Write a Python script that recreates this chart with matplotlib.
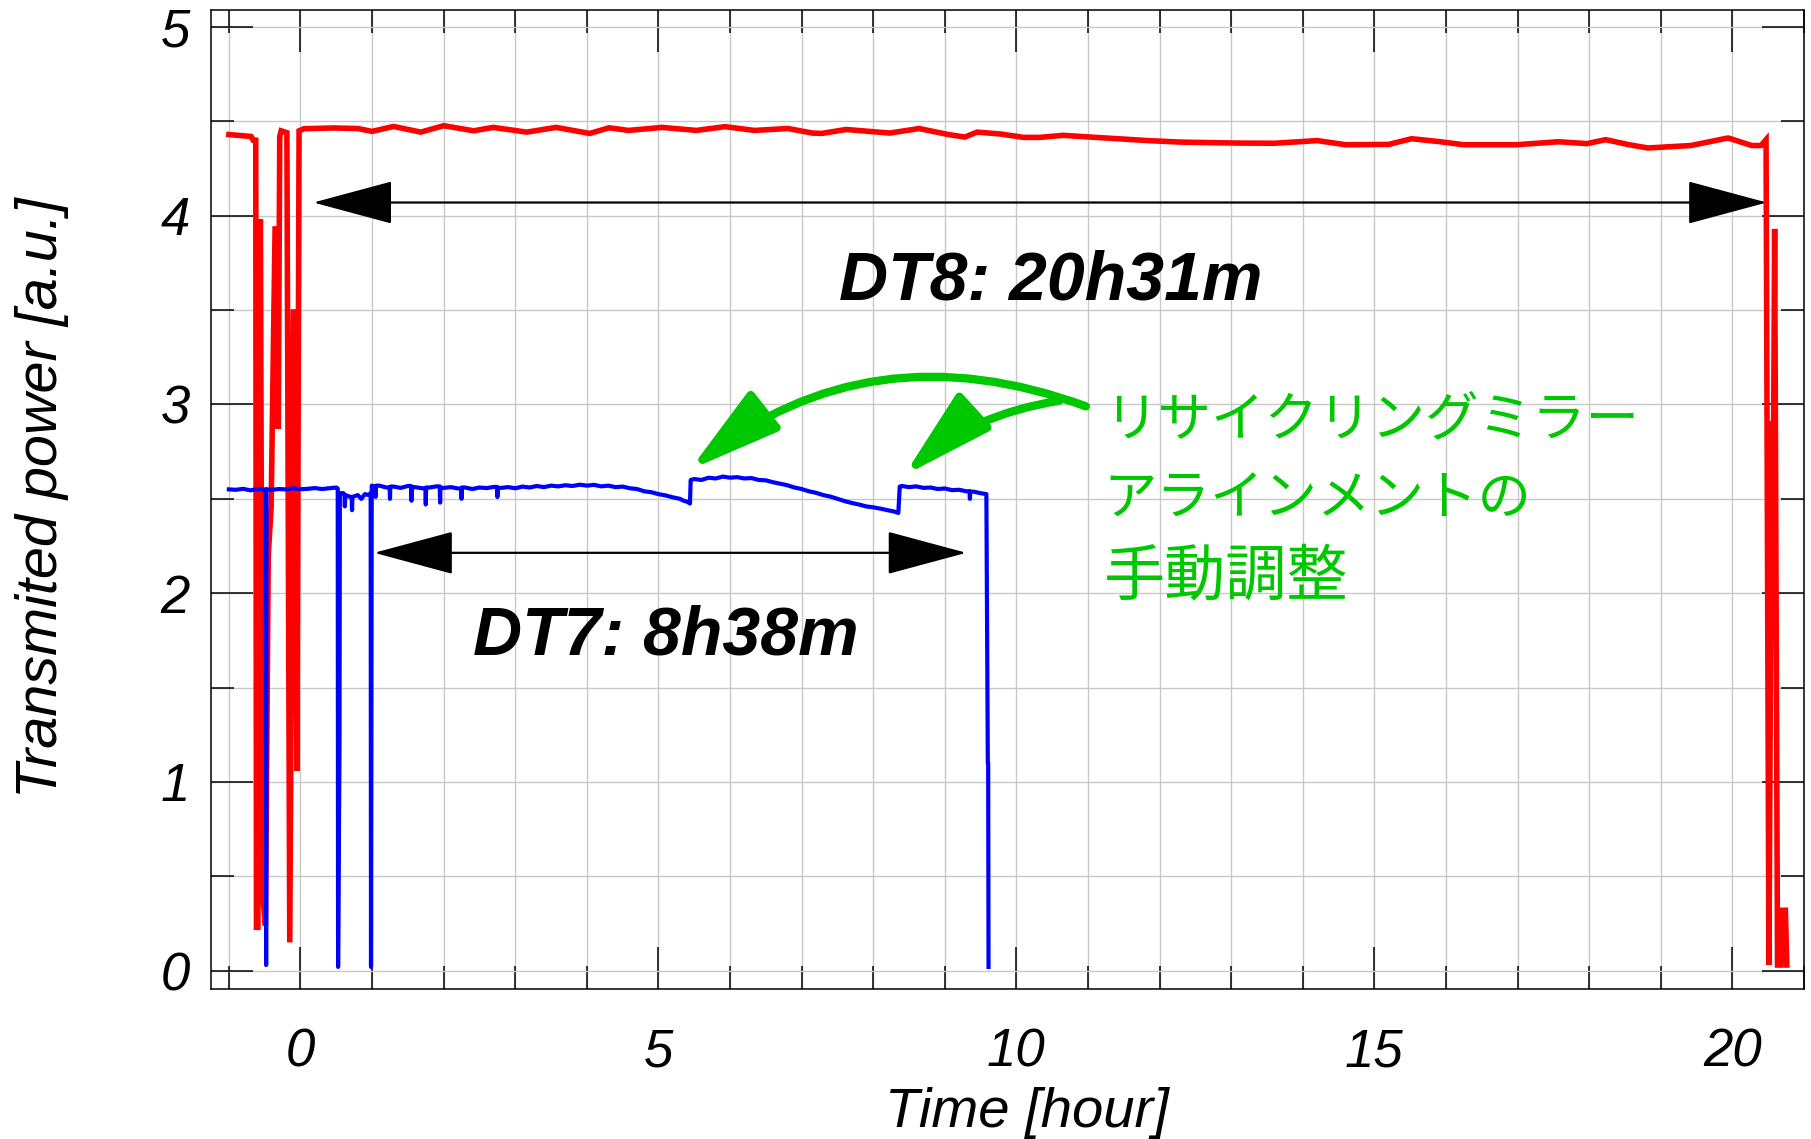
import matplotlib
matplotlib.use("Agg")
import matplotlib.pyplot as plt
from matplotlib.patches import FancyArrowPatch
from matplotlib.ticker import MultipleLocator

# ---------------- data ----------------
red_t = [-1.00, -0.69, -0.66, -0.625, -0.615, -0.595, -0.585, -0.56, -0.53, -0.49, -0.45, -0.41,
         -0.355, -0.33, -0.31, -0.29, -0.27, -0.19, -0.15, -0.10, -0.08, -0.05, -0.02,
         0.05, 0.46, 0.8, 1.0, 1.3, 1.68, 2.0, 2.42, 2.69, 3.16, 3.57, 4.04, 4.31, 4.58, 5.05,
         5.53, 5.93, 6.34, 6.81, 7.15, 7.28, 7.62, 8.23, 8.64, 9.05, 9.28, 9.45, 9.78, 10.1,
         10.32, 10.65, 10.9, 11.24, 11.84, 12.3, 13.09, 13.6, 14.2, 14.6, 15.2, 15.52, 15.92,
         16.25, 16.98, 17.57, 17.97, 18.23, 18.56, 18.82, 19.42, 19.94, 20.27, 20.40, 20.47,
         20.51, 20.55, 20.57, 20.59, 20.63, 20.68, 20.70, 20.74, 20.76]
red_p = [4.43, 4.42, 4.40, 4.40, 0.23, 0.23, 3.58, 3.98, 0.41, 0.24, 2.20, 2.46,
         3.93, 3.93, 2.87, 4.42, 4.45, 4.44, 0.15, 3.49, 3.49, 1.06, 4.45,
         4.461, 4.465, 4.462, 4.447, 4.473, 4.443, 4.477, 4.450, 4.468, 4.443, 4.468, 4.436,
         4.466, 4.452, 4.468, 4.452, 4.472, 4.452, 4.462, 4.438, 4.436, 4.457, 4.438, 4.462,
         4.430, 4.417, 4.443, 4.433, 4.415, 4.415, 4.426, 4.420, 4.412, 4.398, 4.390, 4.385,
         4.384, 4.398, 4.376, 4.378, 4.408, 4.392, 4.376, 4.376, 4.392, 4.382, 4.403, 4.376,
         4.359, 4.372, 4.412, 4.372, 4.372, 4.403,
         0.03, 2.91, 2.44, 3.93, 0.03, 0.03, 0.32, 0.32, 0.03]

blue_t = [-1.0, -0.9, -0.8, -0.7, -0.6, -0.5, -0.485, -0.48, -0.475,
          -0.4, -0.3, -0.2, -0.1, 0.0, 0.1, 0.2, 0.3, 0.4, 0.5, 0.52, 0.525, 0.545, 0.55,
          0.6, 0.615, 0.62, 0.625, 0.7, 0.715, 0.72, 0.725, 0.8, 0.85, 0.9, 0.95, 0.98, 0.985, 0.995,
          1.0, 1.045, 1.05, 1.055, 1.1, 1.2, 1.245, 1.25, 1.255, 1.3, 1.4, 1.5, 1.545, 1.55, 1.555,
          1.6, 1.7, 1.745, 1.75, 1.755, 1.8, 1.9, 1.945, 1.95, 1.955,
          2.0, 2.1, 2.2, 2.245, 2.25, 2.255, 2.3, 2.4, 2.5, 2.6, 2.7, 2.745, 2.75, 2.755,
          2.8, 2.9, 3.0, 3.1, 3.2, 3.3, 3.4, 3.5, 3.6, 3.7, 3.8, 3.9, 4.0, 4.1, 4.2, 4.3,
          4.4, 4.5, 4.6, 4.7, 4.8, 4.9, 5.0, 5.1, 5.2, 5.3, 5.35, 5.4, 5.44,
          5.45, 5.5, 5.6, 5.7, 5.8, 5.9, 6.0, 6.1, 6.2, 6.3, 6.4, 6.5, 6.6, 6.7, 6.8, 6.9,
          7.0, 7.1, 7.2, 7.3, 7.4, 7.5, 7.6, 7.7, 7.8, 7.9, 8.0, 8.1, 8.2, 8.3, 8.35,
          8.37, 8.4, 8.5, 8.6, 8.7, 8.8, 8.9, 9.0, 9.1, 9.2, 9.3, 9.345, 9.35, 9.355,
          9.4, 9.5, 9.58, 9.60, 9.605, 9.61]
blue_p = [2.550, 2.548, 2.553, 2.545, 2.552, 2.549, 2.550, 0.03, 2.550,
          2.548, 2.552, 2.550, 2.556, 2.551, 2.553, 2.557, 2.552, 2.556, 2.560, 2.555, 0.02, 1.20, 2.53,
          2.530, 2.520, 2.460, 2.520, 2.510, 2.510, 2.440, 2.510, 2.520, 2.500, 2.525, 2.520, 2.530, 0.02, 2.570,
          2.565, 2.565, 2.510, 2.570, 2.570, 2.560, 2.560, 2.500, 2.565, 2.565, 2.558, 2.568, 2.568, 2.490, 2.562,
          2.562, 2.556, 2.556, 2.470, 2.560, 2.560, 2.566, 2.566, 2.480, 2.558,
          2.558, 2.562, 2.555, 2.555, 2.500, 2.560, 2.560, 2.552, 2.560, 2.557, 2.563, 2.563, 2.510, 2.558,
          2.558, 2.562, 2.556, 2.565, 2.560, 2.568, 2.562, 2.570, 2.566, 2.572, 2.568, 2.575, 2.570, 2.574, 2.566, 2.570,
          2.562, 2.565, 2.556, 2.552, 2.540, 2.535, 2.525, 2.518, 2.508, 2.500, 2.490, 2.485, 2.475,
          2.600, 2.605, 2.600, 2.612, 2.608, 2.618, 2.612, 2.615, 2.608, 2.610, 2.600, 2.598, 2.588, 2.580, 2.572, 2.560,
          2.552, 2.540, 2.532, 2.520, 2.512, 2.500, 2.488, 2.478, 2.470, 2.460, 2.455, 2.448, 2.440, 2.432, 2.425,
          2.565, 2.568, 2.562, 2.566, 2.558, 2.560, 2.552, 2.555, 2.546, 2.548, 2.540, 2.540, 2.500, 2.538,
          2.538, 2.530, 2.525, 1.10, 1.10, 0.02]

x_major_ticks = [0, 5, 10, 15, 20]
y_major_ticks = [0, 1, 2, 3, 4, 5]

dt8_label = "DT8: 20h31m"
dt7_label = "DT7: 8h38m"
dt8_span = (0.18, 20.48, 4.07)
dt7_span = (1.03, 9.30, 2.214)
note_lines = ["リサイクリングミラー", "アラインメントの", "手動調整"]
note_sizes = [38.5, 38.5, 44]
note_arrow_tips = [(5.44, 2.655), (8.43, 2.624)]

# ---------------- figure ----------------
W, H = 1811, 1139
fig = plt.figure(figsize=(W / 100, H / 100), dpi=100)
ax = fig.add_axes([211 / W, 1 - 989 / H, (1804 - 211) / W, (989 - 10) / H])

tickfont = ["Liberation Sans", "DejaVu Sans"]
green = "#00c800"

ax.plot(red_t, red_p, color="#ff0000", lw=4.0, solid_joinstyle="miter", zorder=3)
ax.plot(blue_t, blue_p, color="#0000ff", lw=3.0, zorder=4)

ax.set_xlim(-1.25, 21.0)
ax.set_ylim(-0.097, 5.09)

ax.xaxis.set_major_locator(MultipleLocator(5))
ax.xaxis.set_minor_locator(MultipleLocator(1))
ax.yaxis.set_major_locator(MultipleLocator(1))
ax.yaxis.set_minor_locator(MultipleLocator(0.5))
ax.set_xticks(x_major_ticks)
ax.set_yticks(y_major_ticks)
ax.set_xticklabels([str(v) for v in x_major_ticks])
ax.set_yticklabels([str(v) for v in y_major_ticks])

ax.grid(True, which="both", color="#c8c8c8", lw=1.0, zorder=0)
ax.set_axisbelow(True)
for s in ax.spines.values():
    s.set_linewidth(1.1)
    s.set_color("black")

ax.tick_params(which="both", direction="in", top=True, right=True, width=1.1, color="black")
ax.tick_params(which="major", length=30)
ax.tick_params(which="minor", length=16.5)
ax.tick_params(axis="y", which="major", pad=15)
ax.tick_params(axis="x", which="major", pad=28)
for lab in ax.get_xticklabels() + ax.get_yticklabels():
    lab.set_fontfamily(tickfont)
    lab.set_fontstyle("italic")
    lab.set_fontsize(38)

ax.set_xlabel("Time [hour]", fontsize=40.5, fontstyle="italic", family=tickfont)
ax.set_ylabel("Transmited power [a.u.]", fontsize=41.5, fontstyle="italic", family=tickfont)
ax.xaxis.set_label_coords(0.5125, -0.100)
ax.yaxis.set_label_coords(-0.089, 0.5015)

# black double arrows
for (x0, x1, yy) in (dt8_span, dt7_span):
    arr = FancyArrowPatch((x0, yy), (x1, yy),
                          arrowstyle="<|-|>,head_length=52,head_width=14",
                          mutation_scale=1, color="black", lw=1.6,
                          shrinkA=0, shrinkB=0, zorder=6)
    ax.add_patch(arr)

ax.text(10.48, 3.65, dt8_label, fontsize=49, fontweight="bold", fontstyle="italic",
        family=tickfont, ha="center", va="center", zorder=7)
ax.text(5.10, 1.77, dt7_label, fontsize=49, fontweight="bold", fontstyle="italic",
        family=tickfont, ha="center", va="center", zorder=7)

# green annotation
jp = ["Noto Sans CJK JP", "DejaVu Sans"]
for i, (line, fs) in enumerate(zip(note_lines, note_sizes)):
    ax.text(11.22, 2.913 - i * 0.413, line, fontsize=fs, color=green, family=jp,
            ha="left", va="center", zorder=7)

starts = [(10.97, 2.99), (10.6, 3.02)]
rads = [0.28, 0.15]
for (sx, sy), (tx, ty), r in zip(starts, note_arrow_tips, rads):
    ga = FancyArrowPatch((sx, sy), (tx, ty),
                         connectionstyle=f"arc3,rad={r}",
                         arrowstyle="-|>,head_length=56,head_width=15",
                         mutation_scale=1, color=green, lw=6.0,
                         shrinkA=0, shrinkB=0, zorder=6)
    ax.add_patch(ga)

fig.savefig("out.png", dpi=100)
